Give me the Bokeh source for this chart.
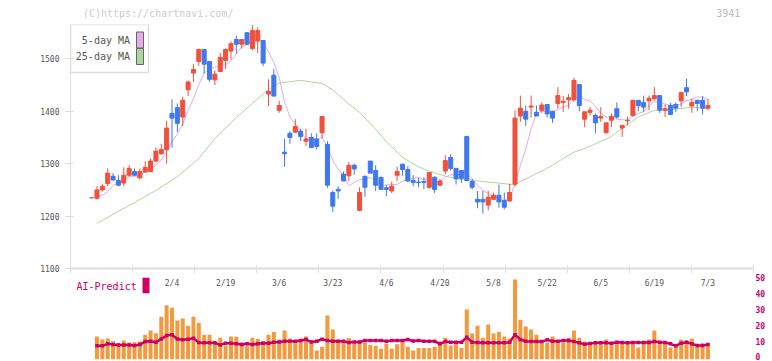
from bokeh.plotting import figure
from bokeh.layouts import column
from bokeh.models import ColumnDataSource, FixedTicker, LinearAxis, Range1d, Label
from bokeh.core.properties import value
from bokeh.embed import file_html
from bokeh.resources import INLINE

NaN = float("nan")

# ---- daily prices (one entry per trading session) ----
opens = [1235, 1234, 1250, 1262, 1276, 1268, 1263, 1278, 1285, 1273,
         1284, 1285, 1305, 1319, 1327, 1396, 1407, 1389, 1441, 1473,
         1495, 1518, 1495, 1460, 1476, 1497, 1515, 1537, 1528, 1550,
         1520, 1534, 1535, 1433, 1469, 1402, 1322, 1358, 1360, 1362,
         1343, 1350, 1347, 1359, 1337, 1245, 1251, 1280, 1277, 1297,
         1211, 1276, 1305, 1287, 1274, 1254, 1248, 1278, 1299, 1289,
         1268, 1265, 1266, 1255, 1274, 1259, 1286, 1312, 1291, 1287,
         1352, 1266, 1232, 1232, 1221, 1232, 1240, 1230, 1229, 1261,
         1391, 1400, 1408, 1398, 1402, 1413, 1400, 1415, 1417, 1422,
         1422, 1451, 1385, 1398, 1392, 1387, 1359, 1383, 1405, 1368,
         1382, 1392, 1421, 1417, 1420, 1424, 1430, 1402, 1411, 1413,
         1420, 1445, 1410, 1421, 1421, 1406]
highs = [1236, 1257, 1262, 1291, 1282, 1278, 1293, 1297, 1291, 1291,
         1305, 1310, 1331, 1338, 1382, 1423, 1415, 1428, 1459, 1490,
         1520, 1519, 1496, 1478, 1512, 1520, 1534, 1544, 1538, 1551,
         1565, 1560, 1536, 1461, 1481, 1420, 1348, 1362, 1385, 1367,
         1367, 1358, 1358, 1391, 1343, 1249, 1257, 1285, 1303, 1300,
         1255, 1277, 1305, 1297, 1275, 1259, 1266, 1294, 1300, 1295,
         1278, 1273, 1274, 1284, 1276, 1271, 1316, 1318, 1292, 1288,
         1353, 1271, 1248, 1248, 1248, 1245, 1260, 1245, 1262, 1402,
         1430, 1411, 1430, 1411, 1417, 1414, 1401, 1446, 1429, 1433,
         1464, 1452, 1399, 1408, 1396, 1408, 1378, 1396, 1417, 1375,
         1390, 1421, 1421, 1430, 1430, 1446, 1431, 1413, 1416, 1417,
         1436, 1462, 1424, 1422, 1429, 1424]
lows = [1234, 1232, 1247, 1257, 1268, 1257, 1257, 1276, 1277, 1270,
        1283, 1284, 1303, 1317, 1300, 1331, 1360, 1372, 1429, 1456,
        1487, 1472, 1456, 1450, 1475, 1481, 1499, 1510, 1520, 1527,
        1516, 1511, 1486, 1410, 1429, 1397, 1294, 1338, 1360, 1343,
        1334, 1330, 1327, 1348, 1254, 1208, 1233, 1267, 1267, 1279,
        1210, 1237, 1282, 1248, 1251, 1238, 1244, 1267, 1277, 1265,
        1257, 1255, 1252, 1252, 1244, 1258, 1280, 1287, 1260, 1263,
        1266, 1251, 1215, 1205, 1211, 1232, 1216, 1213, 1227, 1257,
        1380, 1372, 1388, 1391, 1397, 1388, 1378, 1405, 1399, 1405,
        1418, 1400, 1370, 1392, 1358, 1380, 1358, 1370, 1386, 1351,
        1373, 1390, 1400, 1399, 1402, 1421, 1397, 1389, 1394, 1399,
        1408, 1429, 1397, 1400, 1394, 1402]
closes = [1235, 1250, 1257, 1282, 1269, 1259, 1278, 1291, 1278, 1285,
          1293, 1305, 1324, 1327, 1368, 1387, 1377, 1421, 1456, 1480,
          1518, 1490, 1461, 1471, 1503, 1518, 1529, 1528, 1537, 1528,
          1554, 1554, 1492, 1438, 1429, 1411, 1319, 1350, 1371, 1352,
          1347, 1331, 1333, 1390, 1259, 1219, 1248, 1267, 1297, 1290,
          1245, 1255, 1282, 1259, 1251, 1251, 1257, 1285, 1289, 1267,
          1264, 1264, 1264, 1283, 1251, 1267, 1306, 1291, 1271, 1272,
          1268, 1255, 1227, 1227, 1236, 1240, 1227, 1217, 1245, 1387,
          1406, 1385, 1410, 1391, 1412, 1395, 1387, 1430, 1419, 1426,
          1459, 1411, 1399, 1402, 1378, 1390, 1378, 1390, 1389, 1373,
          1383, 1421, 1411, 1408, 1425, 1430, 1402, 1405, 1394, 1406,
          1436, 1437, 1417, 1415, 1406, 1411]

# ---- moving averages ----
ma5 = [NaN, 1237, 1240, 1247, 1258.6, 1263.4, 1269.0, 1275.8, 1275.0, 1278.2,
       1285.0, 1290.4, 1297.0, 1306.8, 1323.4, 1342.2, 1356.6, 1376.0, 1401.8, 1424.2,
       1450.4, 1473.0, 1481.0, 1484.0, 1488.6, 1488.6, 1496.4, 1509.8, 1523.0, 1528.0,
       1535.2, 1540.2, 1533.0, 1513.2, 1493.4, 1464.8, 1417.8, 1389.4, 1376.0, 1360.6,
       1347.8, 1350.2, 1346.8, 1350.6, 1332.0, 1306.4, 1289.8, 1276.6, 1258.0, 1264.2,
       1269.4, 1270.8, 1273.8, 1266.2, 1258.4, 1259.6, 1260.0, 1260.6, 1266.6, 1269.8,
       1272.4, 1273.8, 1269.6, 1268.4, 1265.2, 1265.8, 1274.2, 1279.6, 1277.2, 1281.4,
       1281.6, 1271.4, 1258.6, 1249.8, 1242.6, 1237.0, 1231.4, 1229.4, 1233.0, 1263.2,
       1296.4, 1328.0, 1366.6, 1395.8, 1400.8, 1398.6, 1399.0, 1403.0, 1408.6, 1411.4,
       1424.2, 1429.0, 1422.8, 1419.4, 1409.8, 1396.0, 1389.4, 1387.6, 1385.0, 1384.0,
       1382.6, 1391.2, 1395.4, 1399.2, 1409.6, 1419.0, 1415.2, 1414.0, 1411.2, 1412.4,
       1413.6, 1420.6, 1423.0, 1427.2, 1427.2, 1422.2]
ma25_session = [1, 5, 8, 12, 16, 20, 23, 27, 30, 33, 35, 39, 43, 45, 48, 50, 53,
                55, 58, 61, 63, 66, 69, 73, 77, 79, 80, 83, 86, 88, 90, 93, 97,
                99, 102, 105, 108, 112, 115]
ma25 = [1186, 1209, 1226, 1249, 1275, 1310, 1348, 1388, 1415, 1442, 1454, 1459,
        1453, 1441, 1414, 1398, 1366, 1342, 1312, 1294, 1286, 1276, 1270, 1266,
        1262, 1259, 1266, 1281, 1297, 1310, 1322, 1333, 1352, 1368, 1389, 1402,
        1403, 1408, 1405]

# ---- lower panel ----
volume = [NaN, 14.4, 12.5, 13.1, 11.4, 9.8, 11.9, 10.6, 10.8, 11.2,
          15.6, 18.2, 16.5, 27.0, 34.2, 32.7, 24.5, 25.8, 21.3, 27.0,
          23.2, 15.6, 15.6, 10.2, 13.7, 8.5, 14.4, 14.2, 10.6, 8.3,
          13.7, 12.9, 11.6, 15.6, 17.3, 12.5, 18.2, 13.1, 11.9, 11.9,
          14.4, 10.4, 5.5, 8.0, 27.7, 18.8, 12.5, 10.4, 13.5, 10.0,
          10.8, 10.4, 9.1, 8.5, 6.6, 9.8, 6.8, 9.5, 12.9, 8.0,
          5.5, 7.2, 7.2, 7.2, 8.0, 11.4, 13.7, 8.7, 11.0, 7.2,
          31.5, 16.3, 21.3, 13.7, 22.0, 16.3, 17.5, 14.4, 13.1, 50.5,
          25.1, 20.7, 18.8, 15.6, 11.0, 10.4, 14.4, 10.6, 10.6, 13.7,
          18.2, 13.7, 11.2, 9.8, 11.0, 10.6, 12.5, 10.6, 10.6, 10.6,
          10.6, 10.6, 7.4, 10.6, 12.5, 18.2, 11.2, 11.2, 7.4, 8.5,
          12.5, 11.9, 13.1, 8.0, 10.0, 10.0]
ai_predict = [NaN, 8.5, 8.5, 9.8, 9.3, 9.1, 9.1, 9.1, 8.7, 9.3,
              11.2, 11.4, 10.8, 12.9, 15.0, 15.6, 12.9, 12.3, 12.7, 13.3,
              10.6, 10.4, 10.4, 10.4, 9.1, 10.2, 10.2, 9.8, 9.3, 9.8,
              9.3, 9.8, 10.2, 10.2, 10.8, 11.0, 11.4, 11.4, 11.4, 11.9,
              12.5, 11.0, 11.4, 12.7, 11.9, 11.4, 11.4, 11.4, 10.6, 11.0,
              11.0, 11.9, 11.9, 11.9, 11.9, 11.4, 11.9, 11.9, 11.9, 12.5,
              11.6, 11.9, 11.4, 11.4, 11.4, 9.8, 11.2, 10.8, 10.8, 10.8,
              13.9, 10.8, 10.6, 10.4, 10.4, 10.4, 10.4, 10.4, 10.8, 15.6,
              12.5, 11.4, 11.2, 11.2, 11.2, 12.3, 11.4, 11.4, 11.9, 11.9,
              11.2, 10.4, 9.5, 10.0, 10.4, 10.4, 10.4, 10.2, 10.8, 10.6,
              10.4, 10.6, 10.6, 10.6, 10.6, 11.2, 10.8, 10.6, 9.8, 8.5,
              10.2, 10.8, 9.8, 8.7, 8.7, 9.3]

date_labels = ["2/4", "2/19", "3/6", "3/23", "4/6", "4/20", "5/8", "5/22", "6/5", "6/19", "7/3"]
date_label_session = [15, 25, 35, 45, 55, 65, 75, 85, 95, 105, 115]
price_ticks = [1100, 1200, 1300, 1400, 1500]
volume_ticks = [0, 10, 20, 30, 40, 50]

# ---- layout geometry (pixels) ----
W = 772
HEAD_H, TOP_H, BOTTOM_H = 24, 249, 88
FRAME_LEFT, FRAME_RIGHT = 70, 753
FRAME1_TOP, FRAME1_BOTTOM = 24, 268          # page y of the price frame
PANEL2_TOP = HEAD_H + TOP_H                  # page y where the lower panel starts
PANEL2_BOTTOM = PANEL2_TOP + BOTTOM_H
PX_PER_YEN = 0.524
VOL_ZERO_PX, PX_PER_VOL = 358.8, 1.58
TICK_LIFT_PX = 2.5                           # right-hand labels sit a little above their bars

X_START, X_END = -3.94, 123.5
PRICE_MIN = 1100
PRICE_MAX = PRICE_MIN + (FRAME1_BOTTOM - FRAME1_TOP) / PX_PER_YEN
VOL_MIN = -(PANEL2_BOTTOM - VOL_ZERO_PX) / PX_PER_VOL
VOL_MAX = (VOL_ZERO_PX - PANEL2_TOP) / PX_PER_VOL
TICK_SHIFT = TICK_LIFT_PX / PX_PER_VOL


def px_x(px):
    return X_START + (px - FRAME_LEFT) * (X_END - X_START) / (FRAME_RIGHT - FRAME_LEFT)


def px_price(py):
    return PRICE_MIN + (FRAME1_BOTTOM - py) / PX_PER_YEN


def px_vol(py):
    return (VOL_ZERO_PX - py) / PX_PER_VOL


MONO = "DejaVu Sans Mono"
UP, DOWN = "#f0503c", "#3f78ee"
PINK, GREEN = "#e6aae8", "#acd79c"
CRIMSON, ORANGE = "#cc0066", "#f29a3e"


def bare(fig):
    fig.outline_line_color = None
    fig.background_fill_color = "white"
    fig.border_fill_color = "white"
    return fig


n = len(closes)
sessions = list(range(n))
candles = ColumnDataSource(dict(
    x=sessions,
    high=highs,
    low=lows,
    top=[max(o, c) for o, c in zip(opens, closes)],
    bottom=[min(o, c) for o, c in zip(opens, closes)],
    color=[UP if c >= o else DOWN for o, c in zip(opens, closes)],
))

x_range = Range1d(X_START, X_END)

# ---------------- header strip ----------------
p0 = bare(figure(width=W, height=HEAD_H, x_range=Range1d(0, W), y_range=Range1d(HEAD_H, 0),
                 x_axis_type=None, y_axis_type=None, output_backend="svg", toolbar_location=None,
                 min_border=0))
p0.text(x=[14], y=[12.5], text=["(C)https://chartnavi.com/"], text_align="left",
        text_baseline="middle", text_font=value(MONO), text_font_size="10px", text_color="#cccccc")
p0.text(x=[757], y=[12.5], text=["3941"], text_align="right",
        text_baseline="middle", text_font=value(MONO), text_font_size="10px", text_color="#bbbbbb")

# ---------------- price panel ----------------
p1 = bare(figure(width=W, height=TOP_H, x_range=x_range, y_range=Range1d(PRICE_MIN, PRICE_MAX),
                 x_axis_type=None, y_axis_type=None, output_backend="svg", toolbar_location=None,
                 min_border_left=FRAME_LEFT, min_border_right=W - FRAME_RIGHT,
                 min_border_top=0, min_border_bottom=0))

yaxis = LinearAxis(ticker=FixedTicker(ticks=price_ticks),
                   axis_line_color="#dddddd", axis_line_width=1,
                   major_tick_line_color="#dddddd", major_tick_out=5, major_tick_in=3,
                   minor_tick_out=0, minor_tick_in=0, major_label_standoff=6,
                   major_label_text_font=MONO, major_label_text_font_size="8px",
                   major_label_text_color="#555555")
p1.add_layout(yaxis, "left")

divisions = [X_START + k * (X_END - X_START) / 11 for k in range(12)]
xaxis = LinearAxis(ticker=FixedTicker(ticks=[], minor_ticks=divisions),
                   axis_line_color="#dddddd", axis_line_width=2,
                   major_tick_out=5, major_tick_in=0, major_label_standoff=0,
                   minor_tick_line_color="#dddddd", minor_tick_line_width=1,
                   minor_tick_in=3, minor_tick_out=5)
p1.add_layout(xaxis, "below")

p1.line(ma25_session, ma25, line_color=GREEN, line_width=1)
p1.line(sessions, ma5, line_color=PINK, line_width=1)

p1.segment(x0="x", y0="high", x1="x", y1="low", line_color="color", line_width=1, source=candles)
p1.vbar(x="x", width=0.75, top="top", bottom="bottom", fill_color="color",
        line_color="color", line_width=1, source=candles)

# legend box: label on the left, colour swatch on the right
p1.quad(left=px_x(70), right=px_x(148), top=px_price(24), bottom=px_price(72),
        fill_color="white", line_color="#dddddd", line_width=1.5)
for text, py, colour in [("5-day MA", 39.5, PINK), ("25-day MA", 56.0, GREEN)]:
    p1.add_layout(Label(x=px_x(129.5), y=px_price(py), text=text, text_align="right",
                        text_baseline="middle", text_font=MONO, text_font_size="10px",
                        text_color="#555555"))
    p1.quad(left=px_x(136), right=px_x(143), top=px_price(py - 8), bottom=px_price(py + 8),
            fill_color=colour, line_color="#666666", line_width=1)

# ---------------- AI-Predict panel ----------------
p2 = bare(figure(width=W, height=BOTTOM_H, x_range=x_range, y_range=Range1d(VOL_MIN, VOL_MAX),
                 x_axis_type=None, y_axis_type=None, output_backend="svg", toolbar_location=None,
                 min_border_left=FRAME_LEFT, min_border_right=W - FRAME_RIGHT,
                 min_border_top=0, min_border_bottom=0))
# same scale as the bars, nudged up so the "0" label stays on the page
p2.extra_y_ranges = {"ticks": Range1d(VOL_MIN - TICK_SHIFT, VOL_MAX - TICK_SHIFT)}

raxis = LinearAxis(y_range_name="ticks", ticker=FixedTicker(ticks=volume_ticks),
                   axis_line_color=None, major_tick_line_color=None,
                   major_tick_out=0, major_tick_in=0, minor_tick_out=0, minor_tick_in=0,
                   major_label_standoff=2, major_label_text_font=MONO,
                   major_label_text_font_size="8px", major_label_text_font_style="bold",
                   major_label_text_color=CRIMSON)
p2.add_layout(raxis, "right")

p2.vbar(x=sessions, width=0.75, top=volume, bottom=0, fill_color=ORANGE, line_color=None)
p2.line(sessions, ai_predict, line_color=CRIMSON, line_width=2.5)
p2.scatter(sessions, ai_predict, marker="square", size=3.5, fill_color=CRIMSON, line_color=None)

p2.text(x=date_label_session, y=[px_vol(282.5)] * len(date_labels), text=date_labels,
        text_align="center", text_baseline="middle", text_font=value(MONO),
        text_font_size="8px", text_color="#555555")

p2.add_layout(Label(x=px_x(76), y=px_vol(286), text="AI-Predict", text_baseline="middle",
                    text_font=MONO, text_font_size="10px", text_color=CRIMSON))
p2.quad(left=px_x(142), right=px_x(149), top=px_vol(277.3), bottom=px_vol(292.7),
        fill_color=CRIMSON, line_color=None)

layout = column(p0, p1, p2, spacing=0)
open("out.html", "w").write(file_html(layout, INLINE))
